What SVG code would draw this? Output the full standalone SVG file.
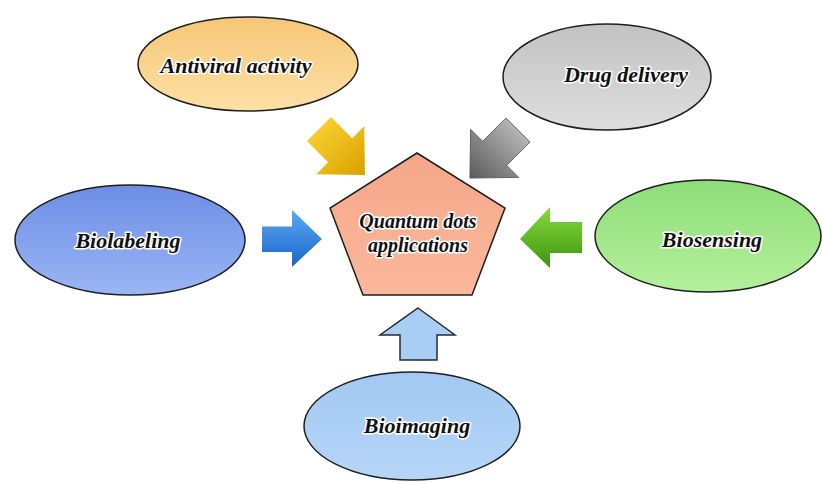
<svg xmlns="http://www.w3.org/2000/svg" width="822" height="482" viewBox="0 0 822 482">
<defs>
<linearGradient id="gOrange" x1="0" y1="0" x2="0" y2="1"><stop offset="0" stop-color="#f6c676"/><stop offset="1" stop-color="#fde0a6"/></linearGradient>
<linearGradient id="gGray" x1="0" y1="0" x2="0" y2="1"><stop offset="0" stop-color="#c2c2c2"/><stop offset="1" stop-color="#dedede"/></linearGradient>
<linearGradient id="gBlue" x1="0" y1="0" x2="0" y2="1"><stop offset="0" stop-color="#6d8de4"/><stop offset="1" stop-color="#9ab6f4"/></linearGradient>
<linearGradient id="gGreen" x1="0" y1="0" x2="0" y2="1"><stop offset="0" stop-color="#8edd78"/><stop offset="1" stop-color="#b4f09c"/></linearGradient>
<linearGradient id="gLight" x1="0" y1="0" x2="0" y2="1"><stop offset="0" stop-color="#a2c8f2"/><stop offset="1" stop-color="#b6d6f8"/></linearGradient>
<linearGradient id="gSalmon" x1="0" y1="0" x2="0" y2="1"><stop offset="0" stop-color="#f5a688"/><stop offset="1" stop-color="#fbb89c"/></linearGradient>
<linearGradient id="aYellow" x1="0" y1="0" x2="1" y2="0"><stop offset="0" stop-color="#f7cd2e"/><stop offset="1" stop-color="#d9a000"/></linearGradient>
<linearGradient id="aGray" x1="0" y1="0" x2="1" y2="0"><stop offset="0" stop-color="#b4b4b4"/><stop offset="1" stop-color="#5a5a5a"/></linearGradient>
<linearGradient id="aBlue" x1="0" y1="0" x2="0" y2="1"><stop offset="0" stop-color="#5aaaf5"/><stop offset="1" stop-color="#1c64c8"/></linearGradient>
<linearGradient id="aGreen" x1="0" y1="0" x2="0" y2="1"><stop offset="0" stop-color="#86dc3a"/><stop offset="1" stop-color="#3c9410"/></linearGradient>
</defs>
<style>
.node{stroke:#1e1e1e;stroke-width:1.5}
.lbl{font-family:"Liberation Serif","Times New Roman",serif;font-weight:bold;font-style:italic;font-size:22px;fill:#111;text-anchor:middle;stroke:#ffffff;stroke-width:3;paint-order:stroke;stroke-linejoin:round}
.center{font-size:20px}
</style>
<rect width="822" height="482" fill="#ffffff"/>
<g id="connectors">
<path id="arrow-antiviral" transform="translate(319,129) rotate(45)" d="M0,-17 L30,-17 L30,-34 L65,0 L30,34 L30,17 L0,17 Z" fill="url(#aYellow)"/>
<path id="arrow-drug" transform="translate(518,130) rotate(135)" d="M0,-17 L33,-17 L33,-34 L68,0 L33,34 L33,17 L0,17 Z" fill="url(#aGray)" stroke="#555" stroke-width="0.8"/>
<path id="arrow-biolabeling" d="M262,226.5 L292,226.5 L292,210 L322,239 L292,267 L292,252 L262,252 Z" fill="url(#aBlue)"/>
<path id="arrow-biosensing" d="M582,222 L550,222 L550,207 L520,239 L550,268 L550,253 L582,253 Z" fill="url(#aGreen)"/>
<path id="arrow-bioimaging" d="M418,308 L455,335 L437,335 L437,360 L400,360 L400,335 L380,335 Z" fill="#a9cef5" stroke="#2a2a2a" stroke-width="1.5"/>
</g>
<g id="antiviral">
<ellipse class="node" cx="248" cy="64" rx="110" ry="47" fill="url(#gOrange)"/>
<text class="lbl" x="236" y="73">Antiviral activity</text>
</g>
<g id="drug-delivery">
<ellipse class="node" cx="607" cy="77" rx="104" ry="53" fill="url(#gGray)"/>
<text class="lbl" x="626" y="82">Drug delivery</text>
</g>
<g id="biolabeling">
<ellipse class="node" cx="130" cy="240" rx="115" ry="55" fill="url(#gBlue)"/>
<text class="lbl" x="128" y="248">Biolabeling</text>
</g>
<g id="biosensing">
<ellipse class="node" cx="708" cy="236" rx="113" ry="56" fill="url(#gGreen)"/>
<text class="lbl" x="712" y="247">Biosensing</text>
</g>
<g id="bioimaging">
<ellipse class="node" cx="412" cy="426" rx="108" ry="54" fill="url(#gLight)"/>
<text class="lbl" x="417" y="433">Bioimaging</text>
</g>
<g id="quantum-dots">
<polygon class="node" points="417,153 505,208 472,295 363,295 330,208" fill="url(#gSalmon)"/>
<text class="lbl center" x="418" y="228">Quantum dots</text>
<text class="lbl center" x="418" y="252">applications</text>
</g>
</svg>
